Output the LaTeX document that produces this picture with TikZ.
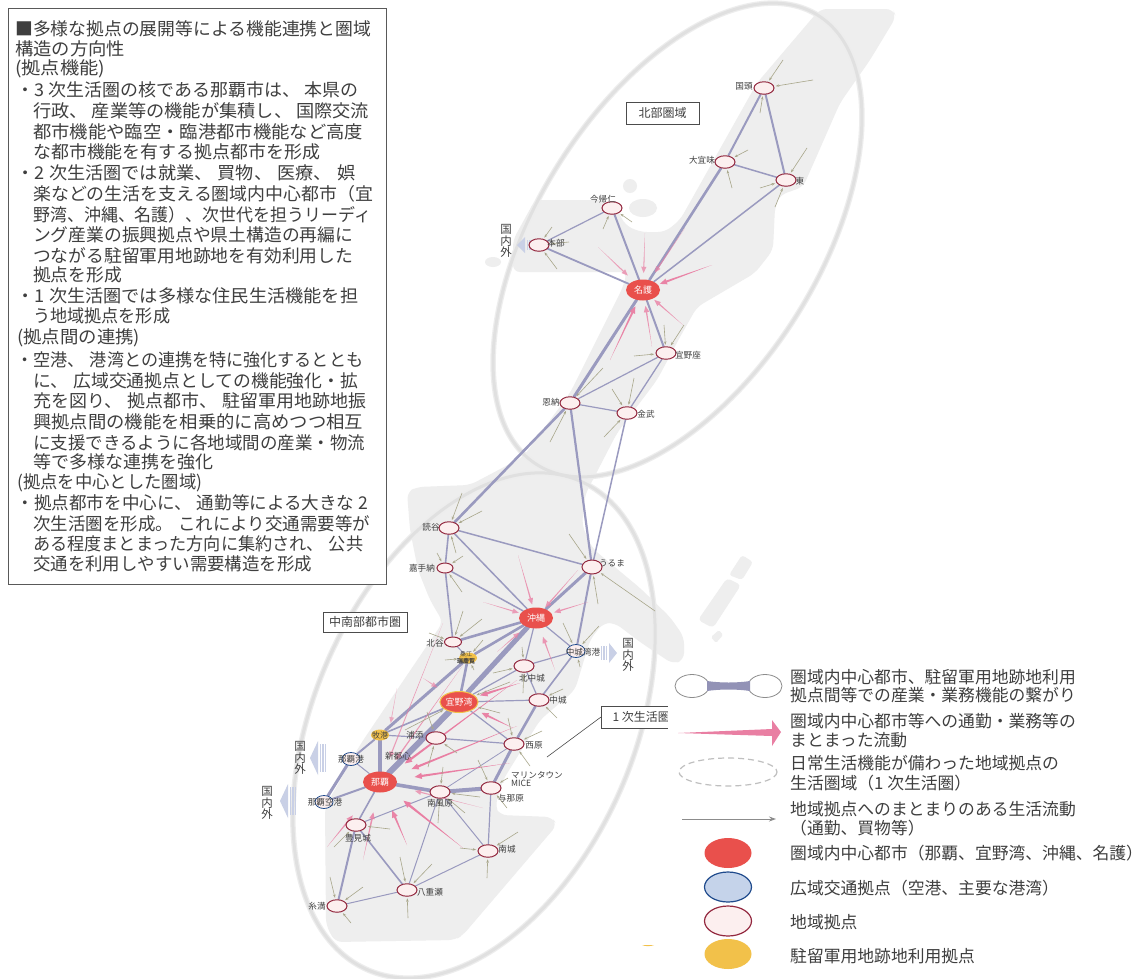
\documentclass[tikz,border=0pt]{standalone}
\usepackage{fontspec}
\usepackage{graphicx}
\setmainfont{Noto Sans CJK JP}
\usetikzlibrary{calc,shapes.geometric,arrows.meta}
\newcommand\flp{\symbol{"FF08}}
\newcommand\frp{\symbol{"FF09}}
\definecolor{landgray}{HTML}{EEEEEE}
\definecolor{ringgray}{HTML}{E0E0E0}
\definecolor{ringsoft}{HTML}{EDEDED}
\definecolor{linkblue}{HTML}{9A9ABF}
\definecolor{pinkflowc}{HTML}{E97FA3}
\definecolor{tanflow}{HTML}{A8A68A}
\definecolor{hubred}{HTML}{E9504C}
\definecolor{basefill}{HTML}{FCEFEF}
\definecolor{baseedge}{HTML}{93283F}
\definecolor{portedge}{HTML}{1F4A8C}
\definecolor{portfill}{HTML}{C5D3EA}
\definecolor{baseyellow}{HTML}{F2C14A}
\definecolor{darktext}{HTML}{3F3F3F}
\definecolor{arrowblue}{HTML}{C9D0E6}
\pgfdeclarelayer{land}
\pgfdeclarelayer{links}
\pgfdeclarelayer{cover}
\pgfsetlayers{land,links,main,cover}
\tikzset{
  hub/.style={ellipse,fill=hubred,draw=none,minimum width=34pt,minimum height=21pt,inner sep=0pt,text=white,font=\fontsize{9}{9}\selectfont},
  base/.style={ellipse,fill=basefill,draw=baseedge,line width=1pt,minimum width=20pt,minimum height=12.5pt,inner sep=0pt},
  port/.style={ellipse,fill=basefill,draw=portedge,line width=.8pt,minimum width=18pt,minimum height=13pt,inner sep=0pt},
  yellowbase/.style={ellipse,fill=baseyellow,draw=none,minimum width=18pt,minimum height=11pt,inner sep=0pt},
  place/.style={text=darktext,font=\fontsize{8.6}{9}\selectfont,inner sep=0pt},
  para/.style={anchor=west,inner sep=0pt,text=darktext,font=\fontsize{17.6}{18}\selectfont},
  legendtext/.style={anchor=west,inner sep=0pt,text=darktext,font=\fontsize{16.8}{18}\selectfont},
  areabox/.style={draw=black!70,line width=.6pt,fill=white,text=darktext,inner sep=0pt,font=\fontsize{12}{13}\selectfont},
  outside/.style={text=darktext,align=center,inner sep=0pt,font=\fontsize{11.5}{11.5}\selectfont},
  link/.style={draw=linkblue,line cap=round},
  ring/.style={draw=ringgray,line width=3pt},
  ringhalo/.style={draw=ringsoft,line width=5.5pt},
  lifeflow/.style={draw=tanflow,line width=.6pt,-{Stealth[length=3.5pt,width=2.5pt]},shorten >=1.5pt},
}
\newcommand\pinkflow[4]{%
  \pgfmathsetmacro\hl{5+2*#4}\pgfmathsetmacro\hw{#4+2}\pgfmathsetmacro\op{min(1,.4+.55*#4)}%
  \coordinate (pfs) at (#1);
  \coordinate (pfe) at ($(#2)!#3pt!(pfs)$);
  \coordinate (pfh) at ($(pfe)!\hl pt!(pfs)$);
  \fill[pinkflowc,fill opacity=\op] (pfs) -- ($(pfh)!#4pt!90:(pfs)$) -- ($(pfh)!\hw pt!90:(pfs)$) -- (pfe)
    -- ($(pfh)!\hw pt!-90:(pfs)$) -- ($(pfh)!#4pt!-90:(pfs)$) -- cycle;
}
\newcommand\outflow[4]{% tip x, centre y, direction (+1 right-from-bars = points left), half height
  \begin{scope}[shift={(#1,#2)},xscale=#3]
    \fill[arrowblue] (0,0) -- (8,-#4) -- (8,#4) -- cycle;
    \fill[arrowblue] (9.6,-#4+3) rectangle (11,#4-3);
    \fill[arrowblue] (12.2,-#4+3) rectangle (13.6,#4-3);
    \fill[arrowblue] (14.8,-#4+3) rectangle (16,#4-3);
  \end{scope}
}
\begin{document}
\begin{tikzpicture}[x=1pt,y=-1pt]
\useasboundingbox (0,0) rectangle (1143,978);

% ---------- land and rings ----------
\begin{pgfonlayer}{land}
\fill[white] (0,0) rectangle (1143,978);
\fill[landgray,rounded corners=7pt]
 (820,9) -- (893,9) -- (896,17) -- (870,60) -- (840,103) -- (815,160) -- (803,187) -- (780,195)
 -- (775,207) -- (773,250) -- (755,273) -- (697,307) -- (680,337) -- (657,380) -- (617,433) -- (585,495)
 -- (582,525) -- (592,548) -- (640,588) -- (670,617) -- (684,637) -- (684,660) -- (673,664) -- (640,642) -- (615,623)
 -- (603,623) -- (590,640) -- (575,690) -- (540,720) -- (503,780) -- (495,807) -- (500,815) -- (552,817)
 -- (557,825) -- (463,935) -- (455,940) -- (335,942) -- (326,925) -- (325,807) -- (360,745) -- (397,690)
 -- (443,622) -- (430,600) -- (418,570) -- (410,530) -- (407,492) -- (417,487) -- (470,485) -- (523,457)
 -- (570,393) -- (623,287) -- (627,272) -- (513,272) -- (513,240) -- (535,200) -- (603,200) -- (615,205)
 -- (625,225) -- (640,232) -- (665,232) -- (680,220) -- (757,83) -- cycle;
\fill[landgray] (630,186) ellipse [x radius=7,y radius=7];
\fill[landgray] (643,208) ellipse [x radius=14,y radius=9];
\fill[landgray] (493,262) ellipse [x radius=8,y radius=5];
\fill[landgray,rounded corners=3pt] (742,555) -- (753,562) -- (742,580) -- (729,575) -- cycle;
\fill[landgray,rounded corners=4pt] (727,578) -- (741,585) -- (713,628) -- (698,620) -- cycle;
\fill[landgray,rounded corners=1.5pt] (719,630) -- (723,635) -- (716,643) -- (711,637) -- cycle;
\foreach \st in {ringhalo,ring}{
\draw[\st,rotate around={58:(677.5,240)}] (677.5,240) ellipse [x radius=265,y radius=141];
\draw[\st,rotate around={66.5:(474,725.5)}] (474,725.5) ellipse [x radius=266.5,y radius=160];
}
\end{pgfonlayer}

% ---------- network nodes ----------
\node[base] (kunigami) at (764,88) {};
\node[base] (ogimi) at (725,162) {};
\node[base] (higashi) at (786,180) {};
\node[base] (nakijin) at (612,208) {};
\node[base] (motobu) at (539,245) {};
\node[hub] (nago) at (643,290) {名護};
\node[base] (ginoza) at (666,353) {};
\node[base] (onna) at (570,403) {};
\node[base] (kin) at (627,413) {};
\node[base] (yomitan) at (449,528) {};
\node[base,minimum width=16pt,minimum height=10pt] (kadena) at (445,568) {};
\node[base,minimum width=20pt,minimum height=14pt] (uruma) at (592,567) {};
\node[hub] (okinawa) at (536,618) {沖縄};
\node[base,minimum width=17pt,minimum height=10pt] (chatan) at (453,642) {};
\node[yellowbase] (zukeran) at (468,658) {};
\node[port] (nakagusukuport) at (576,651) {};
\node[base] (kitanakagusuku) at (524,666) {};
\node[hub,draw=baseyellow,line width=1pt] (ginowan) at (459,702) {宜野湾};
\node[base] (nakagusuku) at (539,700) {};
\node[yellowbase] (makiminato) at (380,735) {};
\node[base] (urasoe) at (436,738) {};
\node[base] (nishihara) at (514,744) {};
\node[port] (nahaport) at (351,759) {};
\node[hub] (naha) at (380,782) {那覇};
\node[base] (haebaru) at (440,792) {};
\node[base] (yonabaru) at (491,788) {};
\node[port] (nahaairport) at (324,802) {};
\node[base] (tomigusuku) at (356,825) {};
\node[base] (nanjo) at (488,851) {};
\node[base] (yaese) at (407,890) {};
\node[base] (itoman) at (337,906) {};

% ---------- place names ----------
\node[place] (t1) at (744,86) {国頭};
\node[place] (t2) at (702,160) {大宜味};
\node[place] (t3) at (800,181) {東};
\node[place] (t4) at (603,199) {今帰仁};
\node[place] (t5) at (556,243) {本部};
\node[place] (t6) at (688,355) {宜野座};
\node[place] (t7) at (551,402) {恩納};
\node[place] (t8) at (646,414) {金武};
\node[place] (t9) at (431,527) {読谷};
\node[place] (t10) at (422,568) {嘉手納};
\node[place] (t11) at (612,563) {うるま};
\node[place] (t12) at (435,643) {北谷};
\node[place] (t13) at (583,652) {中城湾港};
\node[place] (t14) at (532,678) {北中城};
\node[place] (t15) at (558,700) {中城};
\node[place,font=\fontsize{6}{6.5}\selectfont,align=center] (t16) at (466,658) {桑江\\\textbf{瑞慶覧}};
\node[place,font=\fontsize{8}{9}\selectfont] (t17) at (380,735) {牧港};
\node[place] (t18) at (415,735) {浦添};
\node[place] (t19) at (398,756) {新都心};
\node[place] (t20) at (351,759) {那覇港};
\node[place] (t21) at (534,745) {西原};
\node[place,align=left,font=\fontsize{8.6}{8}\selectfont] (t22) at (537,779) {マリンタウン\\MICE};
\node[place] (t23) at (511,798) {与那原};
\node[place] (t24) at (440,803) {南風原};
\node[place] (t25) at (325,802) {那覇空港};
\node[place] (t26) at (358,838) {豊見城};
\node[place] (t27) at (507,849) {南城};
\node[place] (t28) at (430,892) {八重瀬};
\node[place] (t29) at (317,906) {糸満};

% ---------- links ----------
\begin{pgfonlayer}{links}
\foreach \a/\b/\w in {
 kunigami/ogimi/2, kunigami/higashi/2, ogimi/higashi/1.5, ogimi/nago/2.6, higashi/nago/1.5,
 nakijin/motobu/1.2, nakijin/nago/2, motobu/nago/1.8, nago/onna/3, nago/ginoza/2, ginoza/onna/1.2,
 ginoza/kin/1.3, onna/kin/1.2, onna/yomitan/2.6, onna/uruma/2.2, kin/uruma/1.5,
 yomitan/uruma/1.5, yomitan/kadena/1.6, yomitan/okinawa/1.5, kadena/okinawa/1.5, kadena/chatan/1.6,
 chatan/okinawa/2.6, uruma/okinawa/3, uruma/nakagusukuport/2, okinawa/nakagusukuport/1.2,
 okinawa/kitanakagusuku/1.2, okinawa/ginowan/5, okinawa/zukeran/2.6, zukeran/makiminato/3,
 chatan/zukeran/1, zukeran/ginowan/2.6, kitanakagusuku/nakagusukuport/1.2,
 kitanakagusuku/nakagusuku/1.2, nakagusukuport/nakagusuku/1.6, nakagusuku/nishihara/2.6,
 ginowan/nakagusuku/1.2, ginowan/kitanakagusuku/1.2, ginowan/nishihara/1.2, ginowan/makiminato/1.6,
 ginowan/naha/6, makiminato/urasoe/1.2, urasoe/nishihara/1.2, makiminato/naha/3.5,
 makiminato/nahaport/2, nahaport/naha/1, nahaport/nahaairport/3, naha/nahaairport/2,
 naha/tomigusuku/1.6, naha/haebaru/3.6, haebaru/yonabaru/4, nishihara/yonabaru/3,
 nishihara/haebaru/.8, yonabaru/nanjo/1.2, haebaru/nanjo/1, haebaru/tomigusuku/1, haebaru/yaese/1,
 nanjo/yaese/1, tomigusuku/yaese/1.6, tomigusuku/itoman/2, itoman/yaese/1}
 {\draw[link,line width=\w pt] (\a) -- (\b);}

% commuting flows
\foreach \sx/\sy/\t/\g/\w in {
 598/247/nago/21/.6, 645/233/nago/17/.6, 685/228/nago/21/.6, 712/265/nago/18/1, 683/325/nago/15/.7,
 652/347/nago/16/.7, 610/360/nago/18/1,
 518/555/okinawa/14/.7, 578/570/okinawa/14/.7, 588/602/okinawa/19/.7, 483/602/okinawa/18/.6,
 555/670/okinawa/20/.7, 497/652/okinawa/22/.6,
 520/683/ginowan/22/1.2, 513/728/ginowan/25/1, 423/678/ginowan/26/.5,
 517/680/naha/31/1.1, 517/726/naha/34/1.1, 510/763/naha/35/1.1, 463/665/naha/27/.7, 443/623/naha/26/.6,
 397/688/naha/60/.4, 483/808/naha/36/.6, 463/848/naha/30/1.2, 407/845/naha/31/1, 363/860/naha/31/.8,
 327/847/naha/43/.8}
 {\pinkflow{\sx,\sy}{\t}{\g}{\w}}

% living-area flows
\foreach \sx/\sy/\t in {
 783/60/kunigami, 813/80/kunigami, 760/113/kunigami,
 807/148/higashi, 760/188/higashi, 775/207/higashi,
 748/150/ogimi, 732/188/ogimi,
 632/222/nakijin, 603/229/nakijin,
 552/227/motobu, 569/242/motobu, 557/269/motobu,
 664/325/ginoza, 684/325/ginoza, 634/356/ginoza,
 603/368/onna, 550/442/onna,
 612/389/kin, 634/378/kin, 604/437/kin,
 462/493/yomitan, 482/511/yomitan, 456/553/yomitan,
 437/553/kadena, 463/556/kadena, 462/592/kadena,
 569/534/uruma, 598/604/uruma, 655/611/uruma,
 463/611/chatan, 482/619/chatan, 429/633/chatan,
 563/623/nakagusukuport, 599/626/nakagusukuport, 580/667/nakagusukuport,
 445/660/zukeran, 483/640/zukeran, 474/670/zukeran,
 522/647/kitanakagusuku, 493/673/kitanakagusuku, 523/693/kitanakagusuku,
 510/682/ginowan, 500/713/ginowan, 405/730/ginowan,
 508/718/nishihara, 542/731/nishihara, 530/766/nishihara,
 563/689/nakagusuku, 557/718/nakagusuku,
 427/712/urasoe, 457/753/urasoe, 428/767/urasoe,
 443/767/haebaru, 480/797/haebaru, 465/813/haebaru, 438/823/haebaru,
 478/760/yonabaru, 507/808/yonabaru, 508/778/yonabaru,
 518/832/nanjo, 460/848/nanjo, 487/878/nanjo,
 400/857/yaese, 432/864/yaese, 408/918/yaese,
 330/877/itoman, 363/887/itoman, 351/923/itoman,
 390/829/tomigusuku, 334/847/tomigusuku}
 {\coordinate (fs) at (\sx,\sy); \draw[lifeflow] (fs) -- (\t);}

% overseas arrows
\outflow{517}{245}{1}{8}
\outflow{310}{758}{1}{17}
\outflow{280}{801}{1}{17}
\outflow{617}{653}{-1}{10}
\end{pgfonlayer}

\node[outside] (o1) at (506,241) {国\\内\\外};
\node[outside] (o2) at (300,758) {国\\内\\外};
\node[outside] (o3) at (267,803) {国\\内\\外};
\node[outside] (o4) at (628,655) {国\\内\\外};

\node[areabox,minimum width=73pt,minimum height=22pt] (north) at (662.5,113) {北部圏域};
\node[areabox,minimum width=84pt,minimum height=20pt] (south) at (365,622) {中南部都市圏};
\coordinate (leaderend) at (547,757);
\node[areabox,minimum width=90pt,minimum height=22pt,anchor=west] (primary) at (601,717) {\hspace*{4pt}1 次生活圏\hspace*{14pt}};
\draw[draw=black!70,line width=.6pt] (leaderend) -- (primary.west);

% ---------- text panel ----------
\node[draw=black!65,line width=1pt,fill=white,minimum width=378pt,minimum height=576pt,anchor=north west,inner sep=0pt] (panel) at (8,7.5) {};
\foreach \n/\x/\w/\y/\txt in {
 1/15/356/29/{■多様な拠点の展開等による機能連携と圏域},
 2/15/110/49/{構造の方向性},
 3/15/90/69/{(拠点機能)},
 4/16.5/341.5/90/{・3 次生活圏の核である那覇市は、\hspace{4pt}本県の},
 5/33/336/111/{行政、\hspace{4pt}産業等の機能が集積し、\hspace{4pt}国際交流},
 6/33/330/132/{都市機能や臨空・臨港都市機能など高度},
 7/33/287/152/{な都市機能を有する拠点都市を形成},
 8/16.5/338.5/173/{・2 次生活圏では就業、\hspace{5pt}買物、\hspace{5pt}医療、\hspace{5pt}娯},
 9/33/340/194/{楽などの生活を支える圏域内中心都市\flp 宜},
 10/33/338/215/{野湾、沖縄、名護\frp、次世代を担うリーディ},
 11/33/320/235/{ング産業の振興拠点や県土構造の再編に},
 12/33/320/256/{つながる駐留軍用地跡地を有効利用した},
 13/33/89/275/{拠点を形成},
 14/16.5/341.5/296/{・1 次生活圏では多様な住民生活機能を担},
 15/33/137/316/{う地域拠点を形成},
 16/17/123/338/{(拠点間の連携)},
 17/16.5/346.5/360/{・空港、\hspace{5pt}港湾との連携を特に強化するととも},
 18/33/325/381/{に、\hspace{5pt}広域交通拠点としての機能強化・拡},
 19/33/333/401/{充を図り、\hspace{5pt}拠点都市、\hspace{5pt}駐留軍用地跡地振},
 20/33/330/422/{興拠点間の機能を相乗的に高めつつ相互},
 21/33/332/443/{に支援できるように各地域間の産業・物流},
 22/33/180/462/{等で多様な連携を強化},
 23/17/185/483/{(拠点を中心とした圏域)},
 24/16.5/351.5/503/{・拠点都市を中心に、\hspace{5pt}通勤等による大きな 2},
 25/33/337/524/{次生活圏を形成。\hspace{5pt}これにより交通需要等が},
 26/33/330/544/{ある程度まとまった方向に集約され、\hspace{5pt}公共},
 27/33/279/564/{交通を利用しやすい需要構造を形成}}
 {\node[para] (p\n) at (\x,\y) {\resizebox{\w pt}{\height}{\txt}};}

% ---------- legend ----------
\begin{pgfonlayer}{cover}
\fill[white] (668,665) rectangle (1143,978);
\draw[draw=black!45,fill=white,line width=.8pt] (692,686) ellipse [x radius=17,y radius=11.5];
\draw[draw=black!45,fill=white,line width=.8pt] (765,686) ellipse [x radius=17,y radius=11.5];
\fill[linkblue!95!black] (707,681) .. controls (720,683) and (737,683) .. (750,681) -- (750,691) .. controls (737,689) and (720,689) .. (707,691) -- cycle;
\fill[pinkflowc] (678,733) -- (772,729) -- (772,720) -- (781,732) -- (772,746) -- (772,736) -- cycle;
\draw[draw=black!25,line width=1.2pt,dash pattern=on 6pt off 4pt] (728,772) ellipse [x radius=49,y radius=14];
\draw[draw=black!45,line width=1pt,-{Stealth[length=7pt,width=5pt]}] (682,819) -- (776,819);
\fill[hubred] (728,853) ellipse [x radius=23.5,y radius=15];
\draw[draw=portedge,fill=portfill,line width=1.2pt] (728,887) ellipse [x radius=23.5,y radius=15];
\draw[draw=baseedge,fill=basefill,line width=1.2pt] (728,921) ellipse [x radius=23.5,y radius=15];
\fill[baseyellow] (728,954) ellipse [x radius=23.5,y radius=15];
\fill[baseyellow] (642,945) -- (654,945) .. controls (651,946.5) and (645,946.5) .. (642,945) -- cycle;
\foreach \n/\y/\txt in {
 1/677/{圏域内中心都市、駐留軍用地跡地利用},
 2/695/{拠点間等での産業・業務機能の繋がり},
 3/721/{圏域内中心都市等への通勤・業務等の},
 4/740/{まとまった流動},
 5/763/{日常生活機能が備わった地域拠点の},
 6/783/{生活圏域\flp 1 次生活圏\frp},
 7/809/{地域拠点へのまとまりのある生活流動},
 8/828/{\flp 通勤、買物等\frp},
 9/853/{圏域内中心都市\flp 那覇、宜野湾、沖縄、名護\frp},
 10/888/{広域交通拠点\flp 空港、主要な港湾\frp},
 11/922/{地域拠点},
 12/956/{駐留軍用地跡地利用拠点}}
 {\node[legendtext] (lg\n) at (790,\y) {\txt};}
\end{pgfonlayer}
\end{tikzpicture}
\end{document}
